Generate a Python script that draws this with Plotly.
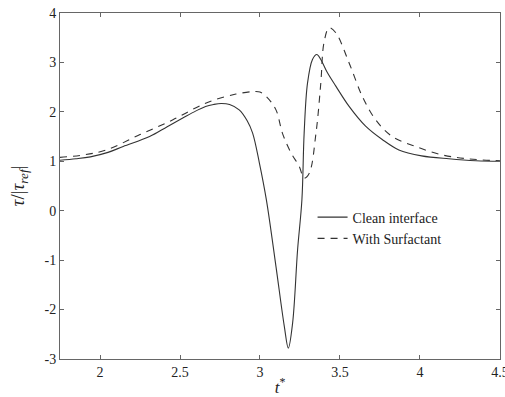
import plotly.graph_objects as go

# Clean interface (solid)
t_clean = [1.75, 1.85, 1.94, 2.05, 2.145, 2.31, 2.42, 2.52, 2.60, 2.66, 2.71, 2.757, 2.81, 2.87,
           2.92, 2.954, 2.996, 3.04, 3.10, 3.152, 3.177, 3.204, 3.235, 3.262, 3.276, 3.297, 3.328,
           3.355, 3.38, 3.42, 3.474, 3.557, 3.66, 3.764, 3.868, 4.01, 4.18, 4.35, 4.5]
y_clean = [1.02, 1.05, 1.09, 1.18, 1.30, 1.50, 1.70, 1.88, 2.02, 2.11, 2.15, 2.17, 2.15, 2.04,
           1.82, 1.57, 0.97, 0.22, -1.13, -2.34, -2.78, -2.27, -0.79, 0.22, 1.57, 2.58, 3.06,
           3.16, 3.06, 2.80, 2.52, 2.11, 1.71, 1.44, 1.23, 1.11, 1.05, 1.01, 1.0]

# With surfactant (dashed)
t_surf = [1.75, 1.9, 2.04, 2.25, 2.456, 2.664, 2.85, 2.96, 3.0, 3.04, 3.10, 3.14, 3.194, 3.245,
          3.276, 3.308, 3.35, 3.38, 3.40, 3.432, 3.474, 3.557, 3.64, 3.723, 3.827, 3.972, 4.138,
          4.3, 4.5]
y_surf = [1.08, 1.13, 1.23, 1.54, 1.84, 2.18, 2.36, 2.41, 2.40, 2.31, 2.04, 1.57, 1.17, 0.90,
          0.66, 0.76, 1.57, 2.58, 3.40, 3.70, 3.60, 2.99, 2.31, 1.84, 1.50, 1.30, 1.13,
          1.05, 1.01]

labels = ["Clean interface", "With Surfactant"]
x_ticks = [2, 2.5, 3, 3.5, 4, 4.5]
y_ticks = [-3, -2, -1, 0, 1, 2, 3, 4]

font = "Liberation Serif, DejaVu Serif, serif"
fig = go.Figure()
fig.add_trace(go.Scatter(x=t_clean, y=y_clean, mode="lines", name=labels[0],
                         line=dict(color="#333333", width=1.1, shape="spline", smoothing=1.0)))
fig.add_trace(go.Scatter(x=t_surf, y=y_surf, mode="lines", name=labels[1],
                         line=dict(color="#333333", width=1.1, dash="7px,6px", shape="spline", smoothing=1.0)))

axis_common = dict(showline=True, linecolor="#666666", linewidth=1, mirror="ticks",
                   ticks="inside", ticklen=4, tickcolor="#666666", showgrid=False, zeroline=False,
                   ticklabeloverflow="allow",
                   tickfont=dict(family=font, size=14, color="#222222"))
fig.update_xaxes(range=[1.75, 4.5001], tickvals=x_ticks, ticktext=[str(v) for v in x_ticks],
                 automargin=False,
                 title=dict(text="<i>t</i><sup>*</sup>", font=dict(family=font, size=17, color="#222222"), standoff=2),
                 **axis_common)
fig.update_yaxes(range=[-3, 4.0001], tickvals=y_ticks, ticktext=[str(v) for v in y_ticks],
                 title=dict(text="<i>τ</i>/|<i>τ<sub>ref</sub></i>|", font=dict(family=font, size=19, color="#222222"), standoff=14),
                 **axis_common)
fig.update_layout(
    width=505, height=397,
    margin=dict(l=60, r=5, t=13, b=38),
    paper_bgcolor="white", plot_bgcolor="white",
    legend=dict(x=0.574, y=0.455, xanchor="left", yanchor="top", bgcolor="rgba(0,0,0,0)",
                font=dict(family=font, size=14, color="#222222"), itemwidth=30, tracegroupgap=0),
)
fig.write_html("out.html")
